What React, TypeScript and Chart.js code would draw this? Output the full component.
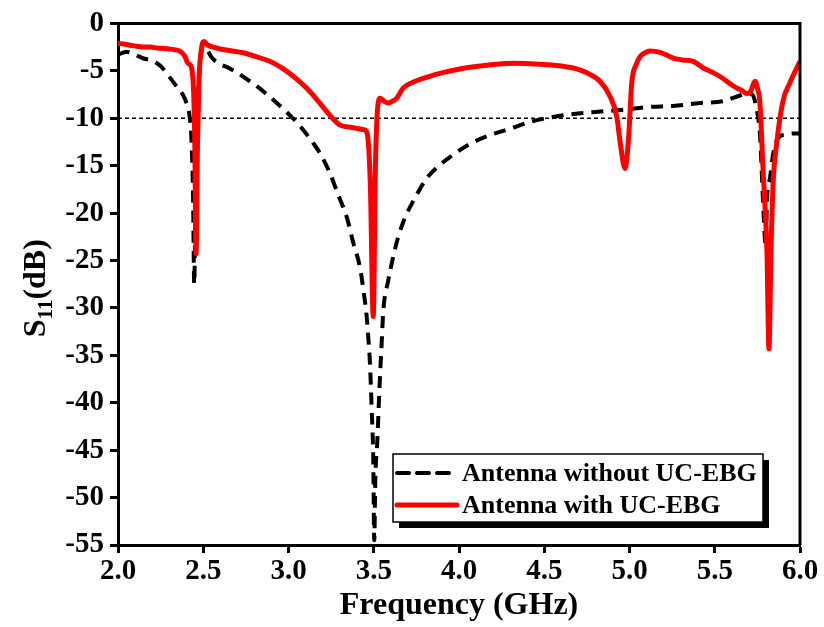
import React, { useEffect, useRef } from "react";
import { Chart, registerables } from "chart.js";

Chart.register(...registerables);

// Antenna without UC-EBG (black dashed)
const freqWithout = [
  2.0, 2.05, 2.1, 2.15, 2.2, 2.25, 2.3, 2.35, 2.38, 2.4, 2.42, 2.43, 2.44, 2.447, 2.455, 2.465, 2.48, 2.5,
  2.52, 2.55, 2.6, 2.65, 2.7, 2.757, 2.82, 2.874, 2.92, 2.968, 3.02, 3.067, 3.144, 3.185, 3.243, 3.29,
  3.343, 3.378, 3.42, 3.44, 3.459, 3.468, 3.478, 3.488, 3.497, 3.503, 3.509, 3.521, 3.533, 3.547, 3.556,
  3.584, 3.613, 3.642, 3.683, 3.742, 3.812, 3.889, 3.97, 4.065, 4.164, 4.299, 4.434, 4.575, 4.698, 4.83,
  4.962, 5.12, 5.255, 5.414, 5.548, 5.648, 5.689, 5.72, 5.745, 5.765, 5.783, 5.795, 5.8, 5.806, 5.824,
  5.842, 5.871, 5.923, 5.97, 6.0,
];
const s11Without = [
  -3.3, -3.0, -3.3, -3.7, -3.9, -4.5, -5.6, -6.8, -7.5, -8.3, -9.8, -12.0, -18.0, -27.5, -18.0, -10.0, -4.5, -2.4,
  -2.7, -3.6, -4.3, -4.7, -5.2, -5.9, -6.7, -7.5, -8.2, -9.0, -9.9, -10.8, -12.6, -13.7, -15.8, -18.0,
  -20.5, -23.0, -25.8, -28.2, -31.0, -33.1, -35.9, -40.8, -45.8, -54.5, -48.2, -44.0, -38.7, -33.5, -30.3,
  -27.2, -24.7, -22.6, -20.5, -18.4, -16.3, -14.9, -13.8, -12.7, -11.9, -11.1, -10.3, -9.8, -9.5, -9.3,
  -9.1, -8.8, -8.7, -8.4, -8.2, -7.6, -7.4, -7.5, -9.0, -11.7, -18.7, -23.0, -23.5, -18.7, -16.3,
  -13.8, -12.1, -11.7, -11.6, -11.6,
];

// Antenna with UC-EBG (red solid)
const freqWith = [
  2.0, 2.04, 2.07, 2.11, 2.15, 2.19, 2.23, 2.27, 2.3, 2.34, 2.36, 2.39, 2.41, 2.43, 2.443, 2.45, 2.458, 2.466,
  2.475, 2.49, 2.505, 2.52, 2.54, 2.6, 2.65, 2.735, 2.8, 2.89, 2.97, 3.05, 3.11, 3.165, 3.22, 3.263, 3.3,
  3.34, 3.38, 3.41, 3.44, 3.46, 3.48, 3.497, 3.51, 3.525, 3.537, 3.56, 3.585, 3.61, 3.634, 3.673, 3.73,
  3.79, 3.86, 3.928, 4.02, 4.123, 4.22, 4.318, 4.42, 4.514, 4.6, 4.69, 4.76, 4.827, 4.886, 4.925, 4.945,
  4.974, 4.995, 5.013, 5.04, 5.062, 5.09, 5.12, 5.18, 5.257, 5.31, 5.374, 5.433, 5.48, 5.531, 5.609, 5.66,
  5.687, 5.71, 5.736, 5.75, 5.765, 5.783, 5.806, 5.818, 5.83, 5.842, 5.865, 5.9, 5.94, 6.0,
];
const s11With = [
  -2.1, -2.2, -2.3, -2.4, -2.5, -2.5, -2.6, -2.65, -2.7, -2.8, -2.9, -3.4, -4.2, -4.6, -7.0, -12.0, -24.3, -13.0,
  -6.0, -2.6, -1.9, -2.2, -2.4, -2.7, -2.85, -3.1, -3.45, -4.0, -4.8, -5.9, -6.9, -8.0, -9.2, -10.1, -10.7,
  -10.9, -11.0, -11.1, -11.2, -11.5, -17.0, -30.9, -15.0, -8.5, -7.9, -8.2, -8.4, -8.2, -7.9, -6.8, -6.2,
  -5.8, -5.4, -5.1, -4.75, -4.5, -4.3, -4.2, -4.25, -4.35, -4.5, -4.8, -5.3, -6.1, -7.7, -9.8, -12.5,
  -15.3, -12.0, -6.3, -4.3, -3.5, -3.1, -2.9, -3.05, -3.65, -3.85, -4.0, -4.7, -5.1, -5.6, -6.6, -7.1,
  -7.4, -7.2, -6.1, -6.8, -8.4, -15.3, -24.0, -34.3, -24.0, -17.0, -12.4, -8.2, -6.3, -4.0,
];

const seriesLabels = ["Antenna without UC-EBG", "Antenna with UC-EBG"];
const referenceLevel = -10;
const xTitle = "Frequency (GHz)";
const yTitleMain = "S";
const yTitleSub = "11";
const yTitleTail = "(dB)";

const FONT = '"Times New Roman", "Liberation Serif", serif';

const framePlugin = {
  id: "frameAndExtras",
  beforeDatasetsDraw(chart: any) {
    const { ctx, chartArea, scales } = chart;
    const y = scales.y.getPixelForValue(referenceLevel);
    ctx.save();
    ctx.strokeStyle = "#000";
    ctx.lineWidth = 1.3;
    ctx.setLineDash([4, 3]);
    ctx.beginPath();
    ctx.moveTo(chartArea.left, y);
    ctx.lineTo(chartArea.right, y);
    ctx.stroke();
    ctx.restore();
  },
  afterDraw(chart: any) {
    const { ctx, chartArea } = chart;
    ctx.save();
    // top and right frame
    ctx.strokeStyle = "#000";
    ctx.lineWidth = 3;
    ctx.beginPath();
    ctx.moveTo(chartArea.left, chartArea.top);
    ctx.lineTo(chartArea.right, chartArea.top);
    ctx.lineTo(chartArea.right, chartArea.bottom);
    ctx.stroke();

    // y-axis title with subscript
    const big = `bold 32px ${FONT}`;
    const small = `bold 21px ${FONT}`;
    ctx.font = big;
    const wS = ctx.measureText(yTitleMain).width;
    const wT = ctx.measureText(yTitleTail).width;
    ctx.font = small;
    const w11 = ctx.measureText(yTitleSub).width;
    const total = wS + w11 + wT;
    ctx.translate(34, (chartArea.top + chartArea.bottom) / 2 + 4);
    ctx.rotate(-Math.PI / 2);
    ctx.fillStyle = "#000";
    ctx.textBaseline = "alphabetic";
    ctx.textAlign = "left";
    let x0 = -total / 2;
    ctx.font = big;
    ctx.fillText(yTitleMain, x0, 11);
    x0 += wS;
    ctx.font = small;
    ctx.fillText(yTitleSub, x0, 18);
    x0 += w11;
    ctx.font = big;
    ctx.fillText(yTitleTail, x0, 11);
    ctx.restore();

    // legend box
    const bx = 393, by = 454, bw = 370, bh = 68;
    ctx.save();
    ctx.fillStyle = "#000";
    ctx.fillRect(bx + 6, by + 6, bw, bh);
    ctx.fillStyle = "#fff";
    ctx.fillRect(bx, by, bw, bh);
    ctx.strokeStyle = "#000";
    ctx.lineWidth = 1.5;
    ctx.strokeRect(bx, by, bw, bh);
    const ds = chart.data.datasets;
    const rows = [473, 505];
    for (let i = 0; i < 2; i++) {
      const d = ds[i];
      ctx.strokeStyle = d.borderColor;
      ctx.lineWidth = d.borderWidth;
      ctx.setLineDash(d.borderDash || []);
      ctx.lineCap = "round";
      ctx.beginPath();
      ctx.moveTo(397, rows[i]);
      ctx.lineTo(457, rows[i]);
      ctx.stroke();
      ctx.setLineDash([]);
      ctx.fillStyle = "#000";
      ctx.font = `bold 26px ${FONT}`;
      ctx.textBaseline = "middle";
      ctx.textAlign = "left";
      ctx.fillText(d.label, 462, rows[i] + 1);
    }
    ctx.restore();
  },
};

export default function App() {
  const ref = useRef<HTMLCanvasElement | null>(null);
  useEffect(() => {
    if (!ref.current) return;
    const black = freqWithout.map((f, i) => ({ x: f, y: s11Without[i] }));
    const red = freqWith.map((f, i) => ({ x: f, y: s11With[i] }));
    const chart = new Chart(ref.current, {
      type: "line",
      data: {
        datasets: [
          {
            label: seriesLabels[0],
            data: black,
            borderColor: "#000000",
            borderWidth: 4,
            borderDash: [12, 8],
            pointRadius: 0,
            cubicInterpolationMode: "monotone",
            fill: false,
            order: 1,
          },
          {
            label: seriesLabels[1],
            data: red,
            borderColor: "#ff0000",
            borderWidth: 5,
            pointRadius: 0,
            cubicInterpolationMode: "monotone",
            fill: false,
            order: 0,
          },
        ],
      },
      options: {
        responsive: false,
        animation: false,
        parsing: true,
        layout: { padding: { top: 22, right: 24, left: 0, bottom: 0 } },
        plugins: { legend: { display: false }, tooltip: { enabled: false } },
        scales: {
          x: {
            type: "linear",
            min: 2,
            max: 6,
            ticks: {
              stepSize: 0.5,
              autoSkip: false,
              maxRotation: 0,
              padding: 1,
              color: "#000",
              font: { family: FONT, size: 29, weight: "bold" },
              callback: (v: any) => Number(v).toFixed(1),
            },
            grid: { drawOnChartArea: false, drawTicks: true, tickLength: 8, tickWidth: 3, tickColor: "#000" },
            border: { display: true, color: "#000", width: 3 },
            title: {
              display: true,
              text: xTitle,
              color: "#000",
              font: { family: FONT, size: 32, weight: "bold" },
              padding: { top: 0, bottom: 2 },
            },
            afterFit: (s: any) => {
              s.height = 82;
            },
          },
          y: {
            type: "linear",
            min: -55,
            max: 0,
            ticks: {
              stepSize: 5,
              padding: 6,
              color: "#000",
              font: { family: FONT, size: 29, weight: "bold" },
            },
            grid: { drawOnChartArea: false, drawTicks: true, tickLength: 8, tickWidth: 3, tickColor: "#000" },
            border: { display: true, color: "#000", width: 3 },
            afterFit: (s: any) => {
              s.width = 118;
            },
          },
        },
      },
      plugins: [framePlugin],
    } as any);
    return () => chart.destroy();
  }, []);
  return (
    <div style={{ position: "fixed", left: 0, top: 0, width: 824, height: 627, background: "#fff" }}>
      <canvas ref={ref} width={824} height={627} style={{ display: "block" }} />
    </div>
  );
}
